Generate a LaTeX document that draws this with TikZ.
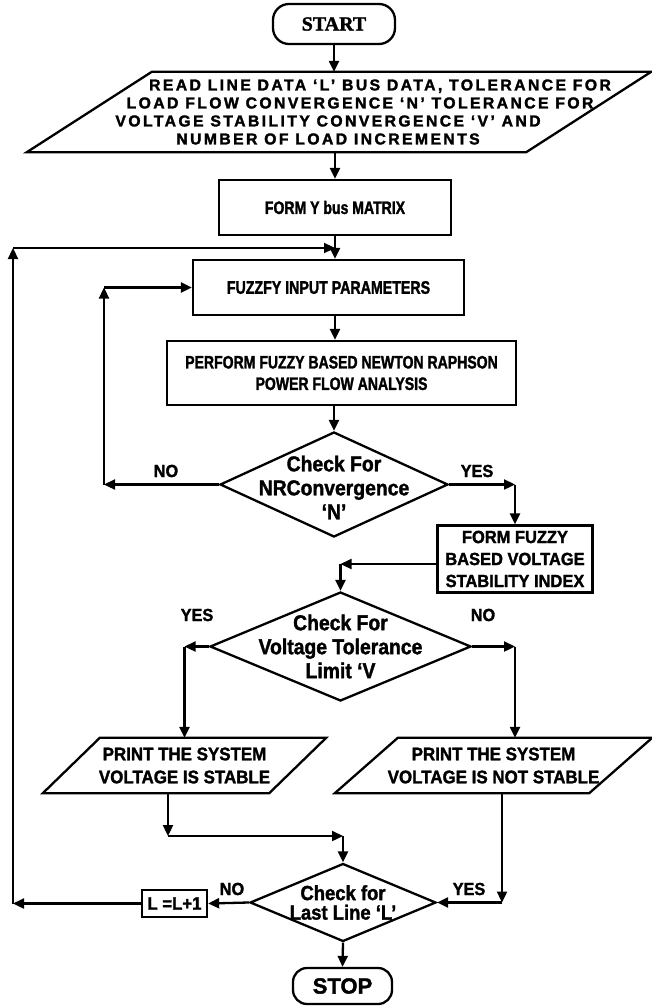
\documentclass[tikz,border=0pt]{standalone}
\usepackage{fontspec}
\usetikzlibrary{shapes.geometric,arrows.meta}
\newfontfamily\fA{Liberation Sans}[FakeStretch=0.78, FakeBold=1.6]
\newfontfamily\fB{Liberation Sans}[FakeStretch=0.93, FakeBold=1.6]
\newfontfamily\fD{Liberation Sans}[FakeStretch=0.9, FakeBold=1.6]
\newfontfamily\fS{Liberation Sans}[FakeBold=1.6]
\newfontfamily\fR{Liberation Serif}[FakeBold=1.6]
\newfontfamily\fW{Liberation Sans}[LetterSpace=15, FakeBold=1.8]
\newcommand\fsz[2]{\fontsize{#1}{#2}\selectfont}
\newcommand\shl[2]{\makebox[0pt]{\hspace*{#1}#2}}
\newcommand\drawpara[2]{\draw[outline] ([xshift=-#2]#1.south west) -- ([xshift=-#2]#1.south east) -- ([xshift=#2]#1.north east) -- ([xshift=#2]#1.north west) -- cycle;}
\begin{document}
\begin{tikzpicture}[x=1pt,y=-1pt,
  outline/.style={draw, line width=2.3pt},
  box/.style={outline, rectangle, inner sep=0pt, align=center},
  arr/.style={line width=2.3pt, -{Triangle[length=11pt,width=10pt]}},
  dia/.style={outline, diamond, inner sep=0pt},
  dtxt/.style={align=center, inner sep=0pt, font=\fD\bfseries\fsz{21.5}{24}},
  lbl/.style={font=\fB\bfseries\fsz{17.5}{20}, inner sep=0pt}]
\path[fill=white, use as bounding box] (0,0) rectangle (651,1006);

\node[box, rounded corners=16pt, minimum width=122, minimum height=40, font=\fR\bfseries\fsz{20}{24}] (start) at (334,24) {START};
\node[inner sep=0pt, minimum width=499, minimum height=80, align=center, font=\fW\bfseries\fsz{15.8}{18}] (read) at (339,112)
  {\shl{82pt}{READ LINE DATA ‘L’ BUS DATA, TOLERANCE FOR}\\
   \shl{42pt}{LOAD FLOW CONVERGENCE ‘N’ TOLERANCE FOR}\\
   \shl{-22pt}{VOLTAGE STABILITY CONVERGENCE ‘V’ AND}\\
   \shl{-22pt}{NUMBER OF LOAD INCREMENTS}};
\drawpara{read}{62.5}
\node[box, minimum width=232, minimum height=55, font=\fA\bfseries\fsz{18}{20}] (ybus) at (335,207.5) {FORM Y bus MATRIX};
\node[box, minimum width=271, minimum height=55, font=\fA\bfseries\fsz{18.2}{20}] (fuzz) at (328.5,287.5) {FUZZFY INPUT PARAMETERS};
\node[box, minimum width=349, minimum height=64, font=\fA\bfseries\fsz{18}{21.5}] (perf) at (341.5,373) {PERFORM FUZZY BASED NEWTON RAPHSON\\POWER FLOW ANALYSIS};
\node[dia, minimum width=228, minimum height=105, label={[dtxt, yshift=-3pt]center:{Check For\\NRConvergence\\‘N’}}] (nr) at (334,484.5) {};
\node[box, minimum width=155, minimum height=67, font=\fB\bfseries\fsz{17.7}{22}] (ffz) at (515,559) {FORM FUZZY\\BASED VOLTAGE\\STABILITY INDEX};
\node[dia, minimum width=261, minimum height=109, label={[dtxt]center:{Check For\\Voltage Tolerance\\Limit ‘V}}] (vt) at (340.5,646.5) {};
\node[inner sep=0pt, minimum width=226, minimum height=55, align=center, font=\fB\bfseries\fsz{18.2}{23}] (ps) at (184.5,765.5) {PRINT THE SYSTEM\\VOLTAGE IS STABLE};
\drawpara{ps}{28.5}
\node[inner sep=0pt, minimum width=254, minimum height=55, align=center, font=\fB\bfseries\fsz{18.2}{23}] (pn) at (493.5,765.5) {PRINT THE SYSTEM\\VOLTAGE IS NOT STABLE};
\drawpara{pn}{31.5}
\node[dia, minimum width=186, minimum height=78, label={[dtxt, font=\fD\bfseries\fsz{20.5}{19.5}]center:{Check for\\Last Line ‘L’}}] (ll) at (343,902.5) {};
\node[box, minimum width=65, minimum height=27, font=\fB\bfseries\fsz{18}{20}] (linc) at (174.5,903.5) {L =L+1};
\node[box, rounded corners=14pt, minimum width=99, minimum height=36, font=\fS\bfseries\fsz{22}{24}] (stop) at (342.5,986) {STOP};

\coordinate (nrL) at (104,484.5);
\coordinate (ffzL) at (340.5,564);
\coordinate (vR) at (515,646.5);
\coordinate (psB) at (168,836);
\coordinate (pnB) at (502,902.5);
\coordinate (oL) at (13,903.5);
\coordinate (oU) at (13,248);

\draw[arr] (start) -- (start |- read.north);
\draw[arr] (read.south -| ybus.north) -- (ybus.north);
\draw[arr] (ybus.south) -- (ybus.south |- fuzz.north);
\draw[arr] (fuzz.south -| ybus.south) -- (perf.north -| ybus.south);
\draw[arr] (perf.south -| nr.north) -- (nr.north);
\draw[arr] (nr.west) -- (nrL);
\draw[arr] (nrL) -- (nrL |- fuzz.west);
\draw[arr] (nrL |- fuzz.west) -- (fuzz.west);
\draw[arr] (nr.east) -- (nr.east -| ffz.north);
\draw[arr] (nr.east -| ffz.north) -- (ffz.north);
\draw[arr] (ffz.west |- ffzL) -- (ffzL);
\draw[arr] (ffzL) -- (vt.north);
\draw[arr] (vt.west) -- (vt.west -| ps.north);
\draw[arr] (vt.west -| ps.north) -- (ps.north);
\draw[arr] (vt.east) -- (vR);
\draw[arr] (vR) -- (vR |- pn.north);
\draw[arr] (ps.south -| psB) -- (psB);
\draw[arr] (psB) -- (psB -| ll.north);
\draw[arr] (psB -| ll.north) -- (ll.north);
\draw[arr] (pn.south -| pnB) -- (pnB);
\draw[arr] (pnB) -- (ll.east);
\draw[arr] (ll.west) -- (linc.east);
\draw[arr] (linc.west) -- (oL);
\draw[arr] (oL) -- (oU);
\draw[arr] (oU) -- (oU -| ybus.south);
\draw[arr] (ll.south) -- (stop.north);

\node[lbl] (noA) at (166,471) {NO};
\node[lbl] (yesA) at (477,471) {YES};
\node[lbl] (yesB) at (197,615) {YES};
\node[lbl] (noB) at (483,615) {NO};
\node[lbl] (noC) at (232,889) {NO};
\node[lbl] (yesC) at (469,889) {YES};
\end{tikzpicture}
\end{document}
